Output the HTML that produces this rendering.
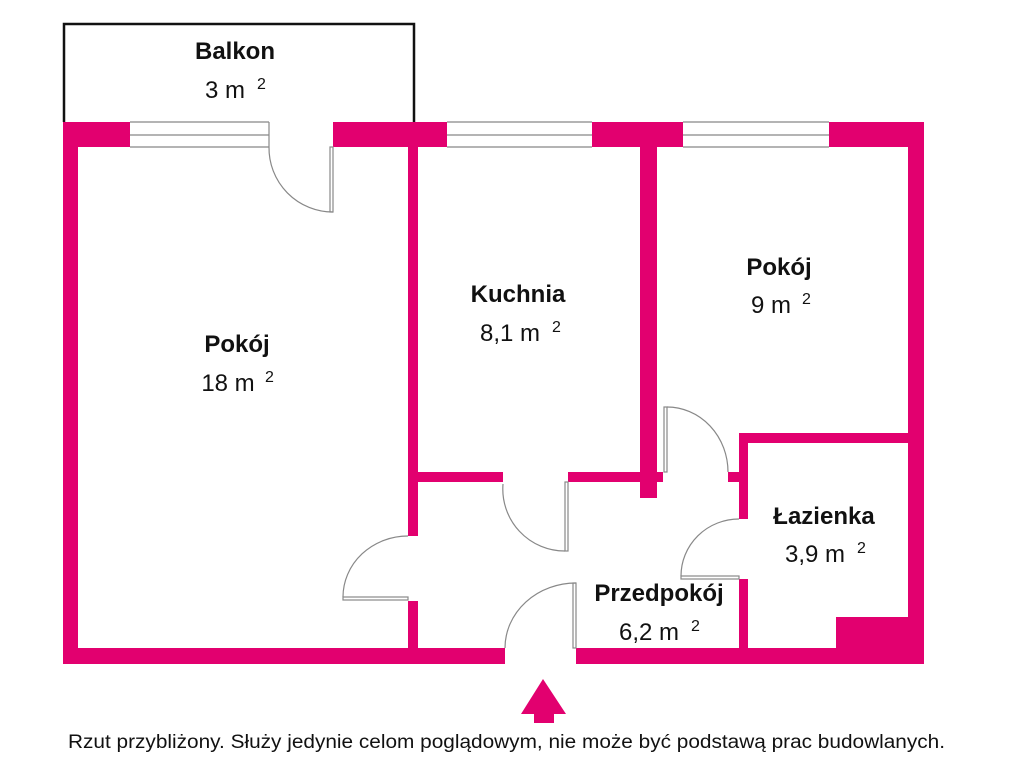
<!DOCTYPE html>
<html><head><meta charset="utf-8"><style>
html,body{margin:0;padding:0;background:#fff;width:1024px;height:768px;overflow:hidden}
svg{display:block}
text{font-family:"Liberation Sans",sans-serif;fill:#111}
.n{font-weight:bold;font-size:24px}
.a{font-size:24px}
.s{font-size:16px}
</style></head><body>
<svg width="1024" height="768" viewBox="0 0 1024 768" xmlns="http://www.w3.org/2000/svg">
<!-- balcony -->
<path d="M64 122 V24 H414 V122" fill="none" stroke="#111" stroke-width="2.5"/>
<g fill="#e2006f">
<!-- top wall blocks -->
<rect x="63" y="122" width="67" height="25"/>
<rect x="333" y="122" width="114" height="25"/>
<rect x="592" y="122" width="91" height="25"/>
<rect x="829" y="122" width="95" height="25"/>
<!-- outer left, right, bottom -->
<rect x="63" y="122" width="15" height="542"/>
<rect x="908" y="122" width="16" height="542"/>
<rect x="63" y="648" width="442" height="16"/>
<rect x="576" y="648" width="348" height="16"/>
<!-- interior walls -->
<rect x="408" y="147" width="10" height="389"/>
<rect x="408" y="601" width="10" height="48"/>
<rect x="418" y="472" width="85" height="10"/>
<rect x="568" y="472" width="95" height="10"/>
<rect x="640" y="147" width="17" height="351"/>
<rect x="728" y="472" width="12" height="10"/>
<rect x="739" y="433" width="170" height="10"/>
<rect x="739" y="433" width="9" height="86"/>
<rect x="739" y="579" width="9" height="70"/>
<rect x="836" y="617" width="72" height="32"/>
<!-- arrow -->
<path d="M543 679 L566 714 L554 714 L554 723 L534 723 L534 714 L521 714 Z"/>
</g>
<g fill="none" stroke="#888" stroke-width="1.2">
<!-- windows -->
<path d="M130 122 H269 M130 135 H269 M130 147 H269 M269 122 V147"/>
<path d="M447 122 H592 M447 135 H592 M447 147 H592"/>
<path d="M683 122 H829 M683 135 H829 M683 147 H829"/>
<!-- balcony door -->
<path d="M269 147 A64 64 0 0 0 333 212"/>
<rect x="330" y="147" width="3" height="65"/>
<!-- kitchen door -->
<path d="M503 484 A62 62 0 0 0 565 551"/>
<rect x="565" y="482" width="3" height="69"/>
<!-- room 18 door -->
<path d="M408 536 A65 61 0 0 0 343 597"/>
<rect x="343" y="597" width="65" height="3"/>
<!-- pokoj 9 door -->
<path d="M667 407 A61 65 0 0 1 728 472"/>
<rect x="664" y="407" width="3" height="65"/>
<!-- bathroom door -->
<path d="M739 519 A58 57 0 0 0 681 576"/>
<rect x="681" y="576" width="58" height="3"/>
<!-- entry door -->
<path d="M576 583 A71 65 0 0 0 505 648"/>
<rect x="573" y="583" width="3" height="65"/>
</g>
<!-- labels -->
<text class="n" x="235" y="59" text-anchor="middle">Balkon</text>
<text class="a" x="225" y="98" text-anchor="middle">3 m</text><text class="s" x="257" y="89">2</text>
<text class="n" x="237" y="352" text-anchor="middle">Pokój</text>
<text class="a" x="228" y="391" text-anchor="middle">18 m</text><text class="s" x="265" y="382">2</text>
<text class="n" x="518" y="302" text-anchor="middle">Kuchnia</text>
<text class="a" x="510" y="341" text-anchor="middle">8,1 m</text><text class="s" x="552" y="332">2</text>
<text class="n" x="779" y="275" text-anchor="middle">Pokój</text>
<text class="a" x="771" y="313" text-anchor="middle">9 m</text><text class="s" x="802" y="304">2</text>
<text class="n" x="824" y="524" text-anchor="middle">Łazienka</text>
<text class="a" x="815" y="562" text-anchor="middle">3,9 m</text><text class="s" x="857" y="553">2</text>
<text class="n" x="659" y="601" text-anchor="middle">Przedpokój</text>
<text class="a" x="649" y="640" text-anchor="middle">6,2 m</text><text class="s" x="691" y="631">2</text>
<text x="68" y="748" font-size="19" textLength="877" lengthAdjust="spacingAndGlyphs">Rzut przybliżony. Służy jedynie celom poglądowym, nie może być podstawą prac budowlanych.</text>
</svg>
</body></html>
